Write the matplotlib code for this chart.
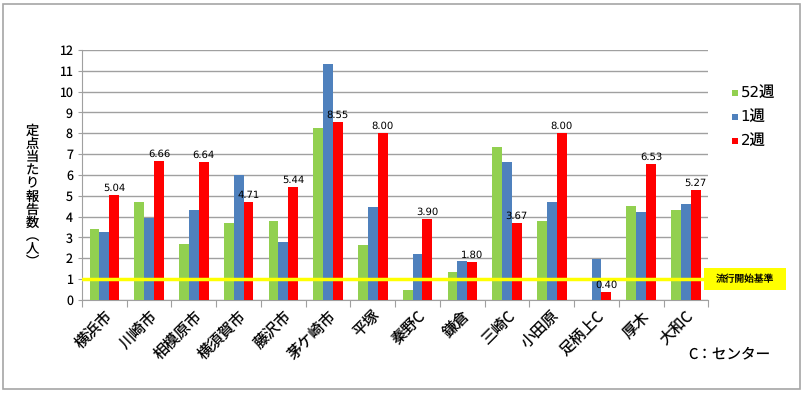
import matplotlib.pyplot as plt
import matplotlib.patches as patches
import numpy as np

plt.rcParams['font.family'] = ['Noto Sans CJK JP', 'DejaVu Sans']
plt.rcParams['text.hinting_factor'] = 1
plt.rcParams['text.hinting'] = 'no_hinting'

# Data
areas = ['横浜市', '川崎市', '相模原市', '横須賀市', '藤沢市', '茅ケ崎市', '平塚',
         '秦野C', '鎌倉', '三崎C', '小田原', '足柄上C', '厚木', '大和C']
week52 = [3.40, 4.70, 2.70, 3.70, 3.80, 8.25, 2.62, 0.48, 1.35, 7.33, 3.77, 0.0, 4.52, 4.30]
week1 = [3.27, 3.95, 4.33, 6.00, 2.78, 11.33, 4.44, 2.18, 1.86, 6.64, 4.69, 1.95, 4.22, 4.60]
week2 = [5.04, 6.66, 6.64, 4.71, 5.44, 8.55, 8.00, 3.90, 1.80, 3.67, 8.00, 0.40, 6.53, 5.27]
series_names = ['52週', '1週', '2週']
colors = ['#92D050', '#4F81BD', '#FF0000']
threshold = 1.0

fig = plt.figure(figsize=(8.04, 3.93), dpi=100)
ax = fig.add_axes([0.102, 0.237, 0.779, 0.636])

# outer border
fig.patches.append(patches.Rectangle((0.004, 0.01), 0.991, 0.98, transform=fig.transFigure,
                                     fill=False, edgecolor='#a6a6a6', linewidth=1.2))

x = np.arange(len(areas))
w = 0.22
for i, vals in enumerate([week52, week1, week2]):
    ax.bar(x + (i - 1) * w, vals, w, color=colors[i], zorder=3)

for xi, v in zip(x, week2):
    ax.text(xi + w, v + 0.1, f'{v:.2f}', ha='center', va='bottom', fontsize=7.5,
            family='DejaVu Sans', zorder=5)

ax.set_xlim(-0.5, len(areas) - 0.5)
ax.set_ylim(0, 12)
ax.set_yticks(range(0, 13))
ax.yaxis.grid(True, color='#a0a0a0', linewidth=1, zorder=0)
ax.tick_params(axis='y', labelsize=9, length=3, color='#a0a0a0')

# x ticks between categories
ax.set_xticks(np.arange(-0.5, len(areas)), minor=False)
ax.set_xticklabels([])
ax.tick_params(axis='x', length=5, color='#a0a0a0')
ax.set_xticks(x, minor=True)
ax.set_xticklabels(areas, minor=True, rotation=45, ha='right', rotation_mode='anchor',
                   fontsize=11)
ax.tick_params(axis='x', which='minor', length=0, pad=6)

for s in ['top', 'right']:
    ax.spines[s].set_visible(False)
for s in ['left', 'bottom']:
    ax.spines[s].set_color('#a0a0a0')

# threshold line and label box
ax.axhline(threshold, color='#FFFF00', linewidth=2.5, zorder=4)
fig.patches.append(patches.Rectangle((0.8756, 0.262), 0.102, 0.056, transform=fig.transFigure,
                                     facecolor='#FFFF00', edgecolor='none'))
fig.text(0.9266, 0.29, '流行開始基準', ha='center', va='center', fontsize=7)

# y label, stacked vertical
fig.text(0.04, 0.50, '\n'.join('定点当たり報告数︵人︶'), ha='center', va='center',
         fontsize=9.5, linespacing=0.93)

# legend
for i, name in enumerate(series_names):
    yy = 0.763 - i * 0.061
    fig.patches.append(patches.Rectangle((0.911, yy - 0.008), 0.007, 0.015,
                                         transform=fig.transFigure, facecolor=colors[i],
                                         edgecolor='none'))
    fig.text(0.921, yy, name, ha='left', va='center', fontsize=11,
             family=['DejaVu Sans', 'Noto Sans CJK JP'])

fig.text(0.856, 0.088, 'C：センター', fontsize=10.5)

plt.savefig('out.png', dpi=100)
